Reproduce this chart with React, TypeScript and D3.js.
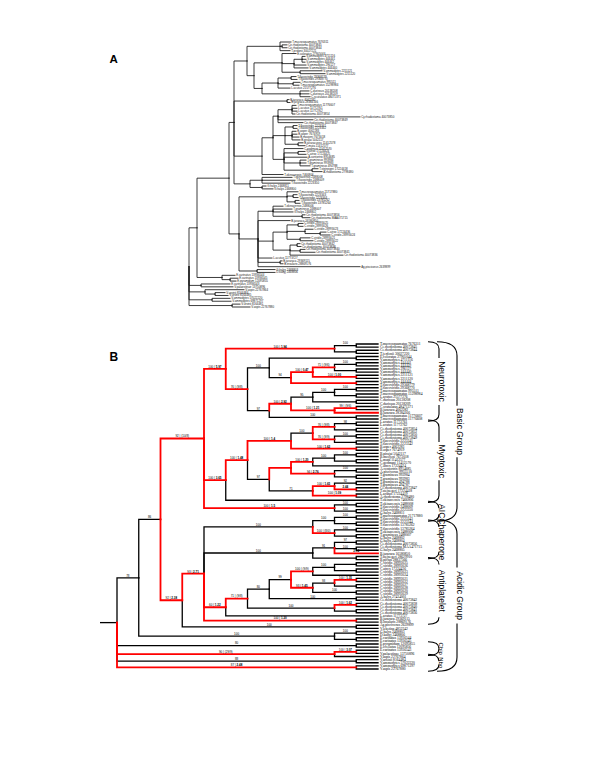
import React from "react";
import * as d3 from "d3";

// ---------- Panel A: phylogram (branch lengths in px-like units) ----------
const A_N280 = "(:11,(:5,:5):2,:10):33";
const A_N282 = "(:14,((:3,:4,:3):8,:12,:14):12,(:22,:25):18):28";
const A_N262 = "(((:5,:6):13,(:7,:6):15,:12):16,(:9,:9,:10):38):8";
const A_N278b = "((:4,:5,:5,:3):14,:82,:35,:25):5";
const A_N285 = "((:4,:4):8,(:4,:5,:7,:8):7,(:5,:7):13):12";
const A_N284 = "(:19,(:7,:8):14,:23,(:6,:6,:10):16,(:6,:10):28):11";
const A_N250 = "((:30,:33,:28):12,(:4,:11):12):16";
const A_N287b = "(:11,(:4,:5):6,(:4,:5):8):48";
const A_N273b = "(:10,:19,:20,(:3,:8):29):15";
const A_N273c = "(((:5,:5):11,(:8,(:6,:10):15):18,(:10,:13):13):14,((:3,:4):7,(:5,:15):10,:53):17):15";
const A_N234 = "((" + A_N280 + ",(" + A_N282 + "," + A_N262 + "):7):13,(:2,:3):53,((" + A_N278b + "," + A_N285 + "," + A_N284 + "):11,:21):28," + A_N250 + "):5";
const A_N239 = "(" + A_N287b + ",(" + A_N273b + ",:32," + A_N273c + ",:14,(:2,:3):22,:102):19,(:18,:18):18):10";
const TREE_A = "(((" + A_N234 + "," + A_N239 + "):32,(:13,(:8,:6):8):25):8,(:29,:32):12,(:39,(:10,:13):10):16,(:18,:19):23,(:8,:18):43);";

const LEAVES_A = [
  "T.mucrosquamatus 7676311", "Ce.rhodostoma 40073845", "Ce.rhodostoma 40073844", "T.jerdonii 30027221",
  "E.coloratus 27905044", "V.ammodytes 4711116", "V.ammodytes 444441", "V.ammodytes 444442", "V.ammodytes 296127", "V.ammodytes 444440", "V.ammodytes 2211121", "V.ammodytes 2211120",
  "T.flavoviridis 29368779", "T.flavoviridis 29368770", "T.mucrosquamatus 995511", "T.mucrosquamatus 15298984", "L.acutus 21577276", "C.durissus 20138208", "C.durissus 20138209", "C.scutulatus 48471371",
  "B.jararaca 4062282", "B.jararaca 28384166",
  "T.mucrosquamatus 11776607", "L.acutus 11772761", "L.acutus 11772762", "Ce.rhodostoma 40073854", "Cy.rhodostoma 40073850", "Ce.rhodostoma 40073849", "Ce.rhodostoma 40073847",
  "T.flavoviridis 2223341", "T.flavoviridis 2223342", "B.asper 4062283", "B.asper 7674919", "B.moojeni 7673018", "B.pirajai 5042117", "B.jararacussu 11412578", "L.muta 11412577",
  "C.godmani 11412570", "C.atrox 17224424", "C.atrox 17224425", "A.contortrix 8954685", "T.gramineus 993984", "T.gramineus 993983", "T.gramineus 494788", "T.stejnegeri 17224418", "A.rhodostoma 2798480",
  "T.okinavensis 7466806",
  "T.okinavensis 2488008", "T.flavoviridis 2488009", "T.flavoviridis 2223350", "G.halys 2468811", "G.halys 2468800",
  "T.mucrosquamatus 21717880", "T.flavoviridis 2223343", "T.flavoviridis 2223344", "T.flavoviridis 13785262", "T.flavoviridis 13785264",
  "T.okinavensis 2488006", "T.gramineus 2488007", "G.halys 2468802", "Ce.rhodostoma 40073856", "Ce.rhodostoma MAA471715",
  "B.jararaca 16580850",
  "C.viridis 28993025", "C.viridis 28993026", "C.viridis 28993023", "C.atrox 17224436", "C.viridis 28993024", "C.viridis 28993021", "C.viridis 28993022",
  "Ce.rhodostoma 40073842", "Ce.rhodostoma 40073838", "Ce.rhodostoma 40073840", "Ce.rhodostoma 40073841", "Ce.rhodostoma 40073836",
  "L.acutus 11773727", "B.jararaca 29369115", "B.insularis 28869176", "Ag.piscivorus 2639899",
  "G.halys 2468803", "D.kabyj 2468806",
  "E.carinatus 13936544", "E.carinatus 13936545", "E.pyramidum 12095855",
  "E.carinatus 13936543", "V.palaestinae 13750896",
  "V.aspis 22767864", "V.ursinii 8164484", "V.ursinii 8164485",
  "V.ammodytes 57022220", "V.ammodytes 69871297",
  "V.ursinii 8164481", "V.aspis 22767880",
];

// ---------- Panel B: cladogram with support labels ("!" = red branch, {} = parentheses) ----------
const B_N335a = "!((,)100,(,))100 | 1.94";
const B_N313a = "!(!((,)100,(,))71 | {9/6},!(,)100 | 1.00)100 | 0.47";
const B_N270a = "((,),(" + B_N313a + ",!(,))94)100";
const B_N313b = "(((,)100,(,))100,(,))95";
const B_N335d = "!(!(,)99 | {9/6},!)100 | 1.21";
const B_N270b = "(!(" + B_N313b + "," + B_N335d + ")100 | 2.92,(,)100)97";
const B_N226a = "!(" + B_N335a + ",!(" + B_N270a + "," + B_N270b + ")76 | {9/8})100 | 5.97";
const B_N313c = "(!((,)98,(,))76 | {9/8},!((,)100,(,))76 | {9/9})100";
const B_N291c = "!(" + B_N313c + ",!(,)100 | 1.62)100 | 1.4";
const B_N291d = "!(!(((,)100,(,))100,)100 | 1.20,!((,)100,(,))94 | 2.76)";
const B_N313e = "(!((,)92,!(,)2.44)100 | 1.65,!(,)100 | 1.09)71";
const B_N226b = "!(!(" + B_N291c + ",(" + B_N291d + "," + B_N313e + ")97)100 | 1.48,)100 | 3.65";
const B_N335j = "!((,)100,(,)100)100 | 1.5";
const B_N205a = "!(" + B_N226a + "," + B_N226b + "," + B_N335j + ")92 | {10/8}";
const B_N313f = "(((,)100,(,))100,!((,)100,(,))100 | {8/0})100";
const B_N313g = "(((,)97,(,)100,!2.14)91,(,))100";
const B_N290h = "(!(((,),(,))100,)100 | {9/9},!((!(,)100 | 1.35,(,))93,(,)100)93 | 1.45)99";
const B_N226h = "!(!((" + B_N290h + ",(,)100)80,(!(,)100 | 1.62,(,))100)71 | {9/8},)60 | 1.22";
const B_N183 = "!(!(" + B_N313f + "," + B_N313g + "," + B_N226h + ",!(,)100 | 1.20)93 | 2.71,(,)100)92 | 2.38";
const TREE_B = "(((" + B_N205a + "," + B_N183 + ")86,((,)100,(,))100)78,(,)80,!(!(,)100 | 3.07,)90 | {29/9},(,)88,!(,)87 | 2.48);";

const LEAVES_B = [
  "T.mucrosquamatus 7676311", "Ce.rhodostoma 40073845", "Ce.rhodostoma 40073844", "T.jerdonii 30027220", "E.coloratus 27905044",
  "V.ammodytes 4711116", "V.ammodytes 444441", "V.ammodytes 444442", "V.ammodytes 296127", "V.ammodytes 444440", "V.ammodytes 2211121", "V.ammodytes 2211120", "V.ammodytes 444444",
  "T.flavoviridis 29368779", "T.flavoviridis 29368770", "T.mucrosquamatus 995511", "T.mucrosquamatus 15298984", "L.acutus 21577276",
  "C.durissus 20138208", "C.durissus 20138209", "C.scutulatus 48471371", "B.jararaca 4062282", "B.jararaca 28384166", "T.mucrosquamatus 11776607", "T.mucrosquamatus 11776608",
  "L.acutus 11772761", "L.acutus 11772762", "Ce.rhodostoma 40073854", "Ce.rhodostoma 40073852", "Ce.rhodostoma 40073850", "Ce.rhodostoma 40073849",
  "T.flavoviridis 2223341", "T.flavoviridis 2223342", "B.asper 4062283", "B.asper 7674919", "B.pirajai 5042117", "B.moojeni 7673018", "L.muta 11412577",
  "C.godmani 11412570", "C.atrox 17224424", "A.contortrix 8954685", "A.piscivorus 9955510", "T.gramineus 993984", "T.gramineus 993983", "T.gramineus 494788", "T.gramineus 494787",
  "Ce.rhodostoma 40073847", "T.stejnegeri 17224418", "L.acutus 17224419", "A.rhodostoma 2798480", "T.okinavensis 7466806",
  "T.okinavensis 2488008", "T.flavoviridis 2488009", "T.flavoviridis 2223350", "G.halys 2468811",
  "T.mucrosquamatus 21717880", "T.flavoviridis 2223343", "T.flavoviridis 2223344", "T.flavoviridis 13785262", "T.flavoviridis 13785264", "T.okinavensis 2488006", "T.gramineus 2488007", "G.halys 2468802",
  "G.halys 2468804", "Ce.rhodostoma 40073856", "Ce.rhodostoma MAA471715", "G.halys 2468805", "B.jararaca 16580850", "T.stejnegeri 28629910", "B.pictus 28837566",
  "C.viridis 28993025", "C.viridis 28993026", "C.atrox 17224436", "C.viridis 28993023", "C.viridis 28993024", "C.viridis 28993021", "C.viridis 28993022", "C.viridis 28993027",
  "C.viridis 28993028", "C.viridis 28993020", "C.viridis 28993029", "A.halys 27434001", "Ce.rhodostoma 40073842", "Ce.rhodostoma 40073838", "Ce.rhodostoma 40073840",
  "Ce.rhodostoma 40073841", "Ce.rhodostoma 40073836", "L.acutus 11773727", "B.jararaca 29369115", "B.insularis 28869176",
  "Ag.piscivorus 2639899", "V.lebetina 4852342", "G.halys 2468803", "D.kabyj 2468806", "E.carinatus 13936544", "E.carinatus 13936545", "E.pyramidum 12095855", "E.ocellatus 12095856",
  "E.carinatus 13936543", "V.palaestinae 13750896", "V.aspis 22767864", "V.ursinii 8164484", "V.ammodytes 57022220", "V.ammodytes 69871297", "V.aspis 22767880",
];

const BRACKET_NAMES = ["Neurotoxic", "Myotoxic", "AIC", "Chaperone", "Antiplatelet", "Chip", "Nbo", "Basic Group", "Acidic Group"];
const BRACKET_FIRST = [0, 25, 51, 57, 69, 96, 100, 0, 57];
const BRACKET_LAST = [24, 50, 56, 68, 89, 99, 104, 56, 104];
const BRACKET_OUTER = [0, 0, 0, 0, 0, 0, 0, 1, 1];
const BRACKET_FONT = [8.5, 8.5, 8.5, 8.5, 8.5, 6, 6, 8.5, 8.5];

type PNode = { label: string; red: boolean; length: number; children: PNode[] };

function parseNewick(s: string): PNode {
  let i = 0;
  const read = (): PNode => {
    const node: PNode = { label: "", red: false, length: 0, children: [] };
    if (s[i] === "!") { node.red = true; i++; }
    if (s[i] === "(") {
      i++;
      node.children.push(read());
      while (s[i] === ",") { i++; node.children.push(read()); }
      i++;
    }
    let lab = "";
    while (i < s.length && ",():;".indexOf(s[i]) < 0) lab += s[i++];
    node.label = lab.trim();
    if (s[i] === ":") {
      i++;
      let num = "";
      while (i < s.length && ",();".indexOf(s[i]) < 0) num += s[i++];
      node.length = parseFloat(num);
    }
    return node;
  };
  return read();
}

function NodeLabel({ x, y, text }: { x: number; y: number; text: string }) {
  const t = text.replace(/\{/g, "(").replace(/\}/g, ")");
  const parts = t.split(" | ");
  const isBold = (p: string) => p.indexOf(".") >= 0 && p[0] !== "(";
  return (
    <text x={x} y={y} fontSize={3} textAnchor="middle" fontFamily="Liberation Sans, Arial, sans-serif" fill="#000">
      {parts.length === 1 ? (
        <tspan fontWeight={isBold(parts[0]) ? "bold" : "normal"}>{parts[0]}</tspan>
      ) : (
        <>
          <tspan>{parts[0] + " | "}</tspan>
          <tspan fontWeight={isBold(parts[1]) ? "bold" : "normal"}>{parts[1]}</tspan>
        </>
      )}
    </text>
  );
}

export default function App() {
  // ----- Tree A layout -----
  const hA: any = d3.hierarchy(parseNewick(TREE_A), (d: PNode) => (d.children.length ? d.children : null));
  const leavesA = hA.leaves();
  const yA = d3.scaleLinear().domain([0, leavesA.length - 1]).range([42, 307]);
  hA.eachBefore((n: any) => { n.dist = n.parent ? n.parent.dist + n.data.length : 0; });
  const maxDistA = d3.max(hA.descendants(), (n: any) => n.dist) as number;
  const xA = d3.scaleLinear().domain([0, maxDistA]).range([189, 189 + maxDistA]);
  leavesA.forEach((l: any, i: number) => { l.py = yA(i); l.name = LEAVES_A[i] || ""; });
  hA.eachAfter((n: any) => {
    n.px = xA(n.dist);
    if (n.children) n.py = (n.children[0].py + n.children[n.children.length - 1].py) / 2;
  });
  const linksA = hA.descendants().filter((n: any) => n.parent);

  // ----- Tree B layout -----
  const hB: any = d3.hierarchy(parseNewick(TREE_B), (d: PNode) => (d.children.length ? d.children : null));
  const leavesB = hB.leaves();
  const yB = d3.scaleLinear().domain([0, leavesB.length - 1]).range([344, 669]);
  const xB = d3.scaleLinear().domain([0, hB.height]).range([378, 117]);
  leavesB.forEach((l: any, i: number) => { l.py = yB(i); l.name = LEAVES_B[i] || ""; });
  hB.eachAfter((n: any) => {
    n.px = xB(n.height);
    if (n.children) n.py = (n.children[0].py + n.children[n.children.length - 1].py) / 2;
    n.red = n.data.red;
    n.ann = n.data.label;
  });
  const nodesB = hB.descendants().filter((n: any) => n.parent);
  const blackB = nodesB.filter((n: any) => !n.red);
  const redB = nodesB.filter((n: any) => n.red);
  const path = (n: any) => `M${n.parent.px},${n.parent.py}V${n.py}H${n.px}`;
  const step = yB(1) - yB(0);

  // ----- Brackets -----
  const brackets = BRACKET_NAMES.map((name, k) => {
    const outer = BRACKET_OUTER[k] === 1;
    const top = yB(BRACKET_FIRST[k]) - step * 0.7;
    const bot = yB(BRACKET_LAST[k]) + step * 0.7;
    const x0 = outer ? 437 : 428;
    const x1 = outer ? 457 : 439;
    const ry = Math.min(outer ? 14 : 7, (bot - top) / 2);
    const fs = BRACKET_FONT[k];
    const len = name.length * fs * 0.52;
    const c = (top + bot) / 2;
    const g = len / 2 + 1.5;
    let d = `M${x0},${top}Q${x1},${top} ${x1},${top + ry}`;
    if (c - g > top + ry) d += `L${x1},${c - g}`;
    if (c + g < bot - ry) d += `M${x1},${c + g}L${x1},${bot - ry}`;
    else d += `M${x1},${bot - ry}`;
    d += `Q${x1},${bot} ${x0},${bot}`;
    return { name, d, x1, c, fs };
  });

  return (
    <svg width={600} height={777} style={{ position: "absolute", left: 0, top: 0, background: "#fff" }}>
      <rect x={0} y={0} width={600} height={777} fill="#fff" />
      {/* Panel labels */}
      <text x={109.5} y={62.5} fontSize={11.5} fontWeight="bold" fontFamily="Liberation Sans, Arial, sans-serif">A</text>
      <text x={109.5} y={361} fontSize={12} fontWeight="bold" fontFamily="Liberation Sans, Arial, sans-serif">B</text>

      {/* Tree A */}
      <g fill="none" stroke="#1a1a1a" strokeWidth={0.85} strokeLinecap="square">
        {linksA.map((n: any, i: number) => (
          <path key={i} d={path(n)} />
        ))}
      </g>
      <g fontSize={2.9} fontFamily="Liberation Sans, Arial, sans-serif" fill="#222">
        {leavesA.map((l: any, i: number) => (
          <text key={i} x={l.px + 1.2} y={l.py + 1}>{l.name}</text>
        ))}
      </g>

      {/* Tree B */}
      <line x1={100} x2={hB.px} y1={hB.py} y2={hB.py} stroke="#000" strokeWidth={1.3} />
      <g fill="none" stroke="#000" strokeWidth={1.3} strokeLinecap="square">
        {blackB.map((n: any, i: number) => (
          <path key={i} d={path(n)} />
        ))}
      </g>
      <g fill="none" stroke="#ff0000" strokeWidth={1.8} strokeLinecap="square">
        {redB.map((n: any, i: number) => (
          <path key={i} d={path(n)} />
        ))}
      </g>
      <g>
        {nodesB.filter((n: any) => n.ann).map((n: any, i: number) => (
          <NodeLabel key={i} x={(n.parent.px + n.px) / 2} y={n.py - 1.1} text={n.ann} />
        ))}
      </g>
      <g fontSize={3.6} fontFamily="Liberation Serif, Times New Roman, serif" fill="#000">
        {leavesB.map((l: any, i: number) => (
          <text key={i} x={380} y={l.py + 1.2}>{l.name}</text>
        ))}
      </g>

      {/* Brackets */}
      <g fill="none" stroke="#000" strokeWidth={1.1}>
        {brackets.map((b, i) => (
          <path key={i} d={b.d} />
        ))}
      </g>
      <g fontFamily="Liberation Sans, Arial, sans-serif" fill="#000">
        {brackets.map((b, i) => (
          <text key={i} fontSize={b.fs} textAnchor="middle" transform={`translate(${b.x1 - 0.3},${b.c}) rotate(90)`}>
            {b.name}
          </text>
        ))}
      </g>
    </svg>
  );
}
